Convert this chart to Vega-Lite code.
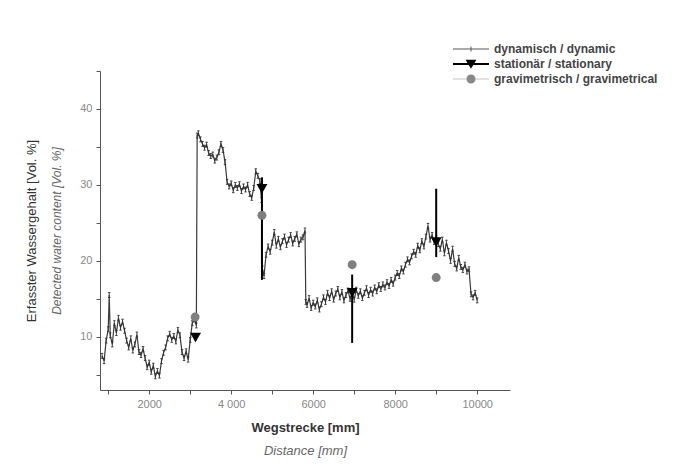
{
  "$schema": "https://vega.github.io/schema/vega-lite/v6.json",
  "width": 410,
  "height": 319,
  "autosize": {"type": "none"},
  "padding": {"left": 100, "top": 71, "right": 169, "bottom": 82},
  "background": "white",
  "config": {
    "view": {"stroke": null},
    "font": "Liberation Sans",
    "axis": {"grid": false, "domainColor": "#555", "tickColor": "#555", "tickSize": 4, "labelColor": "#888", "labelFontSize": 11, "labelFont": "Liberation Sans", "titleFont": "Liberation Sans"}
  },
  "datasets": {
    "dyn": [
      {"x": 850, "y": 7.5}, {"x": 900, "y": 6.8}, {"x": 950, "y": 9.5}, {"x": 1000, "y": 11.0}, {"x": 1025, "y": 15.5},
      {"x": 1050, "y": 10.2}, {"x": 1100, "y": 9.0}, {"x": 1150, "y": 11.8}, {"x": 1200, "y": 10.5}, {"x": 1250, "y": 12.5},
      {"x": 1300, "y": 11.2}, {"x": 1350, "y": 12.0}, {"x": 1400, "y": 10.8}, {"x": 1450, "y": 9.5}, {"x": 1500, "y": 8.6},
      {"x": 1550, "y": 9.8}, {"x": 1600, "y": 8.2}, {"x": 1650, "y": 9.0}, {"x": 1700, "y": 10.3}, {"x": 1750, "y": 8.0},
      {"x": 1800, "y": 7.6}, {"x": 1850, "y": 8.4}, {"x": 1900, "y": 7.2}, {"x": 1950, "y": 6.0}, {"x": 2000, "y": 6.6},
      {"x": 2050, "y": 5.4}, {"x": 2100, "y": 6.2}, {"x": 2150, "y": 4.8}, {"x": 2200, "y": 5.5}, {"x": 2250, "y": 4.9},
      {"x": 2300, "y": 6.8}, {"x": 2350, "y": 7.9}, {"x": 2400, "y": 8.6}, {"x": 2450, "y": 9.8}, {"x": 2500, "y": 10.4},
      {"x": 2550, "y": 9.6}, {"x": 2600, "y": 10.1}, {"x": 2650, "y": 9.4}, {"x": 2700, "y": 10.9}, {"x": 2750, "y": 10.2},
      {"x": 2800, "y": 8.0}, {"x": 2850, "y": 7.2}, {"x": 2900, "y": 8.1}, {"x": 2950, "y": 7.0}, {"x": 3000, "y": 9.6},
      {"x": 3050, "y": 11.8}, {"x": 3100, "y": 12.3}, {"x": 3150, "y": 11.5}, {"x": 3170, "y": 36.5}, {"x": 3200, "y": 36.8},
      {"x": 3250, "y": 36.0}, {"x": 3300, "y": 35.4}, {"x": 3350, "y": 34.9}, {"x": 3400, "y": 35.3}, {"x": 3450, "y": 34.2},
      {"x": 3500, "y": 33.8}, {"x": 3550, "y": 34.0}, {"x": 3600, "y": 33.2}, {"x": 3650, "y": 33.6}, {"x": 3700, "y": 34.3},
      {"x": 3750, "y": 35.4}, {"x": 3800, "y": 34.6}, {"x": 3850, "y": 33.0}, {"x": 3900, "y": 30.4}, {"x": 3950, "y": 29.8},
      {"x": 4000, "y": 30.2}, {"x": 4050, "y": 29.3}, {"x": 4100, "y": 30.0}, {"x": 4150, "y": 29.6}, {"x": 4200, "y": 30.1},
      {"x": 4250, "y": 29.2}, {"x": 4300, "y": 29.8}, {"x": 4350, "y": 29.4}, {"x": 4400, "y": 30.0}, {"x": 4450, "y": 28.8},
      {"x": 4500, "y": 28.3}, {"x": 4550, "y": 29.6}, {"x": 4600, "y": 31.8}, {"x": 4650, "y": 31.2}, {"x": 4700, "y": 30.5},
      {"x": 4740, "y": 28.0}, {"x": 4760, "y": 19.0}, {"x": 4800, "y": 18.0}, {"x": 4850, "y": 20.8}, {"x": 4900, "y": 21.9},
      {"x": 4950, "y": 21.2}, {"x": 5000, "y": 22.4}, {"x": 5050, "y": 23.8}, {"x": 5100, "y": 22.0}, {"x": 5150, "y": 22.9},
      {"x": 5200, "y": 21.8}, {"x": 5250, "y": 22.6}, {"x": 5300, "y": 23.2}, {"x": 5350, "y": 22.1}, {"x": 5400, "y": 22.8},
      {"x": 5450, "y": 23.4}, {"x": 5500, "y": 22.3}, {"x": 5550, "y": 22.9}, {"x": 5600, "y": 23.5}, {"x": 5650, "y": 22.2},
      {"x": 5700, "y": 22.8}, {"x": 5750, "y": 23.1}, {"x": 5800, "y": 24.0}, {"x": 5820, "y": 14.6}, {"x": 5850, "y": 14.2},
      {"x": 5900, "y": 15.1}, {"x": 5950, "y": 13.8}, {"x": 6000, "y": 14.5}, {"x": 6050, "y": 14.0}, {"x": 6100, "y": 14.8},
      {"x": 6150, "y": 13.6}, {"x": 6200, "y": 14.3}, {"x": 6250, "y": 15.2}, {"x": 6300, "y": 14.6}, {"x": 6350, "y": 15.8},
      {"x": 6400, "y": 15.1}, {"x": 6450, "y": 16.0}, {"x": 6500, "y": 14.9}, {"x": 6550, "y": 15.7}, {"x": 6600, "y": 16.3},
      {"x": 6650, "y": 15.2}, {"x": 6700, "y": 15.9}, {"x": 6750, "y": 14.8}, {"x": 6800, "y": 15.5}, {"x": 6850, "y": 16.1},
      {"x": 6900, "y": 15.0}, {"x": 6950, "y": 15.8}, {"x": 7000, "y": 14.9}, {"x": 7050, "y": 16.2}, {"x": 7100, "y": 15.4},
      {"x": 7150, "y": 16.0}, {"x": 7200, "y": 15.1}, {"x": 7250, "y": 15.8}, {"x": 7300, "y": 16.4}, {"x": 7350, "y": 15.5},
      {"x": 7400, "y": 16.2}, {"x": 7450, "y": 15.7}, {"x": 7500, "y": 16.5}, {"x": 7550, "y": 16.0}, {"x": 7600, "y": 16.8},
      {"x": 7650, "y": 16.3}, {"x": 7700, "y": 16.9}, {"x": 7750, "y": 16.5}, {"x": 7800, "y": 17.2}, {"x": 7850, "y": 16.7},
      {"x": 7900, "y": 17.5}, {"x": 7950, "y": 17.0}, {"x": 8000, "y": 17.8}, {"x": 8050, "y": 18.4}, {"x": 8100, "y": 18.0},
      {"x": 8150, "y": 19.0}, {"x": 8200, "y": 18.6}, {"x": 8250, "y": 19.5}, {"x": 8300, "y": 20.2}, {"x": 8350, "y": 19.8},
      {"x": 8400, "y": 20.6}, {"x": 8450, "y": 21.2}, {"x": 8500, "y": 20.8}, {"x": 8550, "y": 22.0}, {"x": 8600, "y": 21.4},
      {"x": 8650, "y": 22.6}, {"x": 8700, "y": 21.9}, {"x": 8750, "y": 23.2}, {"x": 8800, "y": 24.6}, {"x": 8850, "y": 22.8},
      {"x": 8900, "y": 23.4}, {"x": 8950, "y": 22.5}, {"x": 9000, "y": 23.0}, {"x": 9050, "y": 22.2}, {"x": 9100, "y": 21.6},
      {"x": 9150, "y": 22.8}, {"x": 9200, "y": 21.0}, {"x": 9250, "y": 22.4}, {"x": 9300, "y": 21.3}, {"x": 9350, "y": 20.0},
      {"x": 9400, "y": 21.6}, {"x": 9450, "y": 19.6}, {"x": 9500, "y": 19.0}, {"x": 9550, "y": 20.4}, {"x": 9600, "y": 19.2},
      {"x": 9650, "y": 18.8}, {"x": 9700, "y": 19.5}, {"x": 9750, "y": 18.6}, {"x": 9800, "y": 18.9}, {"x": 9850, "y": 15.6},
      {"x": 9900, "y": 15.2}, {"x": 9950, "y": 15.8}, {"x": 10000, "y": 14.8}
    ],
    "stat": [
      {"x": 3130, "y": 9.9, "lo": 9.5, "hi": 10.5},
      {"x": 4750, "y": 29.5, "lo": 17.5, "hi": 31.0},
      {"x": 6950, "y": 15.8, "lo": 9.2, "hi": 18.2},
      {"x": 9000, "y": 22.5, "lo": 20.5, "hi": 29.5}
    ],
    "grav": [
      {"x": 3120, "y": 12.6},
      {"x": 4750, "y": 26.0},
      {"x": 6950, "y": 19.5},
      {"x": 9000, "y": 17.8}
    ],
    "leg": [
      {"series": "dynamisch / dynamic"},
      {"series": "stationär / stationary"},
      {"series": "gravimetrisch / gravimetrical"}
    ]
  },
  "resolve": {"axis": {"x": "independent", "y": "independent"}},
  "layer": [
    {
      "data": {"name": "dyn"},
      "mark": {"type": "line", "color": "#3a3a3a", "strokeWidth": 1.2},
      "encoding": {
        "x": {"field": "x", "type": "quantitative", "scale": {"domain": [800, 10800], "nice": false, "zero": false},
          "axis": {"orient": "bottom", "values": [1000, 2000, 3000, 4000, 5000, 6000, 7000, 8000, 9000, 10000],
            "labelExpr": "datum.value == 4000 ? '4 000' : (datum.value % 2000 == 0 ? '' + datum.value : '')",
            "labelPadding": 4, "title": "Wegstrecke [mm]", "titleFontSize": 13, "titleFontWeight": "bold", "titleColor": "#333", "titlePadding": 12}},
        "y": {"field": "y", "type": "quantitative", "scale": {"domain": [3, 45], "nice": false, "zero": false},
          "axis": {"orient": "left", "values": [5, 10, 15, 20, 25, 30, 35, 40, 45],
            "labelExpr": "datum.value % 10 == 0 ? datum.label : ''",
            "labelPadding": 4, "title": "Detected water content [Vol. %]", "titleFontSize": 12, "titleFontStyle": "italic", "titleFontWeight": "normal", "titleColor": "#666", "titlePadding": 16}}
      }
    },
    {
      "data": {"name": "dyn"},
      "mark": {"type": "point", "shape": "M-0.5,-1H0.5M0,-1V1M-0.5,1H0.5", "size": 24, "filled": false, "color": "#333", "strokeWidth": 0.9, "opacity": 1},
      "encoding": {
        "x": {"field": "x", "type": "quantitative", "axis": null},
        "y": {"field": "y", "type": "quantitative", "axis": null}
      }
    },
    {
      "data": {"name": "stat"},
      "mark": {"type": "rule", "color": "#000", "strokeWidth": 2},
      "encoding": {
        "x": {"field": "x", "type": "quantitative", "axis": null},
        "y": {"field": "lo", "type": "quantitative", "axis": null},
        "y2": {"field": "hi"}
      }
    },
    {
      "data": {"name": "stat"},
      "mark": {"type": "point", "shape": "triangle-down", "filled": true, "color": "#000", "size": 120, "opacity": 1},
      "encoding": {
        "x": {"field": "x", "type": "quantitative", "axis": null},
        "y": {"field": "y", "type": "quantitative", "axis": null}
      }
    },
    {
      "data": {"name": "grav"},
      "mark": {"type": "point", "shape": "circle", "filled": true, "color": "#808080", "size": 80, "opacity": 1},
      "encoding": {
        "x": {"field": "x", "type": "quantitative",
          "axis": {"orient": "bottom", "domain": false, "ticks": false, "labels": false, "title": "Distance [mm]", "titleFontSize": 13, "titleFontStyle": "italic", "titleFontWeight": "normal", "titleColor": "#666", "titlePadding": 54}},
        "y": {"field": "y", "type": "quantitative",
          "axis": {"orient": "left", "domain": false, "ticks": false, "labels": false, "title": "Erfasster Wassergehalt [Vol. %]", "titleFontSize": 13, "titleFontWeight": "normal", "titleColor": "#333", "titlePadding": 62}}
      }
    },
    {
      "data": {"name": "leg"},
      "mark": {"type": "point", "filled": true, "opacity": 1, "size": 0},
      "encoding": {
        "color": {"field": "series", "type": "nominal",
          "scale": {"domain": ["dynamisch / dynamic", "stationär / stationary", "gravimetrisch / gravimetrical"], "range": ["#555", "#000", "#888"]},
          "legend": {"orient": "none", "legendX": 365, "legendY": -28, "title": null, "symbolSize": 144, "symbolStrokeWidth": 0,
            "labelFont": "Liberation Sans", "labelFontSize": 12, "labelFontWeight": "bold", "labelColor": "#444", "labelOffset": 17, "labelLimit": 400, "rowPadding": 3, "padding": 0, "symbolOpacity": 1}},
        "shape": {"field": "series", "type": "nominal",
          "scale": {"domain": ["dynamisch / dynamic", "stationär / stationary", "gravimetrisch / gravimetrical"],
            "range": ["M-3,-0.08H3V0.08H-3ZM-0.08,-0.4H0.08V0.4H-0.08Z", "M-3,-0.17H3V0.17H-3ZM-0.9,-0.7H0.9L0,0.8Z", "M-3,-0.06H3V0.06H-3ZM0.75,0A0.75,0.75 0 1,1 -0.75,0A0.75,0.75 0 1,1 0.75,0Z"]}}
      }
    }
  ]
}
